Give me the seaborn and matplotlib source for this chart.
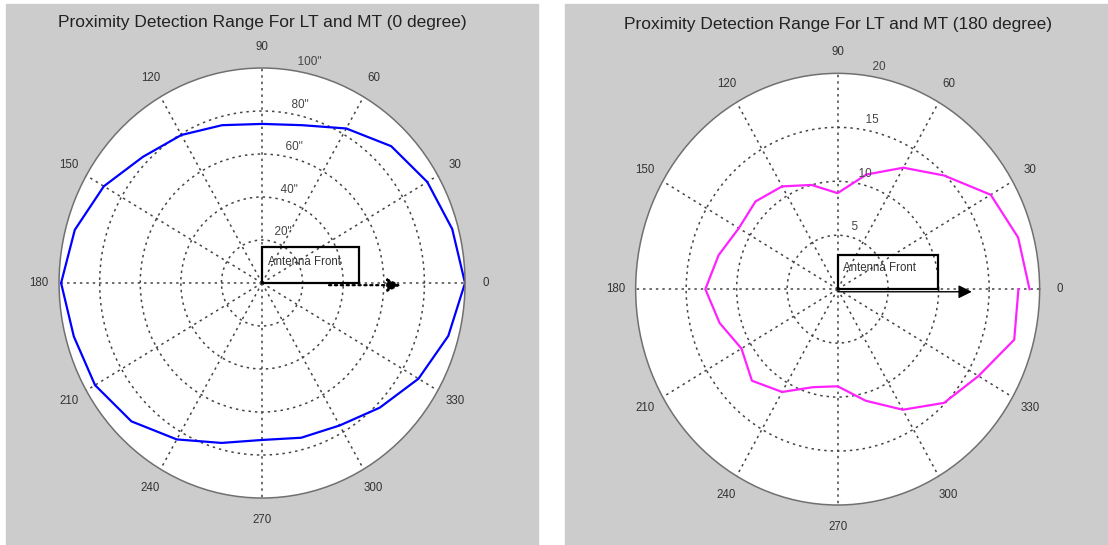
import numpy as np
import seaborn as sns
import matplotlib.pyplot as plt
from matplotlib.patches import Rectangle

# measured every 15 degrees, 0..360
angles = list(range(0, 361, 15))
range_0deg = [100, 97, 94, 90, 83, 76, 74, 76, 79.5, 83, 90, 95.5, 99,
              96, 95, 91, 84, 77, 73, 74.5, 76.5, 82, 89, 95, 100]
range_180deg = [19, 18.5, 17.5, 14.9, 13, 11, 8.9, 10, 11, 11.5, 11.3, 12.2, 13.1,
                12.1, 11, 12, 11, 9.4, 9, 10.7, 12.9, 14.9, 16.1, 18.1, 17.9]

titles = ["Proximity Detection Range For LT and MT (0 degree)",
          "Proximity Detection Range For LT and MT (180 degree)"]
ring_labels_0 = ['20"', '40"', '60"', '80"', '100"']
ring_labels_180 = ["5", "10", "15", "20"]
angle_labels = [str(a) for a in range(0, 360, 30)]

plt.rcParams['font.family'] = ['Liberation Sans', 'DejaVu Sans']

fig = plt.figure(figsize=(11.08, 5.45), dpi=100)
fig.patches.append(Rectangle((6 / 1108, 0), 532 / 1108, 1 - 4 / 545,
                             transform=fig.transFigure, color="#cccccc", zorder=-10))
fig.patches.append(Rectangle((565 / 1108, 0), 543 / 1108, 1 - 4 / 545,
                             transform=fig.transFigure, color="#cccccc", zorder=-10))


def matlab_polar(ax, r, rmax, rinc, ring_labels, color, title, title_xy, arrow):
    theta = np.deg2rad(angles)
    sns.lineplot(x=theta, y=r, ax=ax, sort=False, estimator=None,
                 color=color, lw=1.6)
    ax.set_aspect("auto")
    ax.set_facecolor("white")
    ax.set_ylim(0, rmax)
    ax.set_xticks(np.deg2rad(range(0, 360, 30)))
    ax.set_xticklabels([])
    ax.set_yticks(np.arange(rinc, rmax, rinc))
    ax.set_yticklabels([])
    ax.tick_params(length=0)
    ax.grid(True, color="#444444", linestyle=(0, (1.6, 2.6)), lw=1.1)
    ax.spines["polar"].set_color("#707070")
    ax.spines["polar"].set_linewidth(1.1)
    ax.set_xlabel("")
    ax.set_ylabel("")

    for a, lab in zip(range(0, 360, 30), angle_labels):
        ax.text(np.deg2rad(a), rmax * 1.1, lab, ha="center", va="center",
                fontsize=8.3, color="#333333")
    for i, lab in zip(np.arange(rinc, rmax + rinc / 2, rinc), ring_labels):
        ax.text(np.deg2rad(82), i + rinc / 20, "  " + lab, ha="left", va="bottom",
                fontsize=8.5, color="#444444")

    # Antenna Front box + arrow
    ax.add_patch(Rectangle((0.5, 0.5), arrow[0], arrow[1], transform=ax.transAxes,
                           fill=False, ec="black", lw=1.6, zorder=5))
    ax.text(0.514, 0.549, "Antenna Front", transform=ax.transAxes, fontsize=8.3,
            color="#333333", va="center", ha="left", zorder=6)
    ax.annotate("", xy=(arrow[3], arrow[4]), xytext=(arrow[2], arrow[4]),
                xycoords="axes fraction", textcoords="axes fraction",
                arrowprops=dict(arrowstyle="-|>", color="black", lw=arrow[6],
                                linestyle=arrow[5], mutation_scale=20,
                                shrinkA=0, shrinkB=0), zorder=6)
    fig.text(title_xy[0], title_xy[1], title, ha="center", va="center",
             fontsize=12.5, color="#222222")


ax1 = fig.add_axes([0.0533, 0.0862, 0.3664, 0.789], projection="polar")
matlab_polar(ax1, range_0deg, 100, 20, ring_labels_0, "#0000ff", titles[0],
             (262 / 1108, 1 - 22 / 545),
             (0.238, 0.084, 0.665, 0.842, 0.495, ":", 1.6))

ax2 = fig.add_axes([0.5737, 0.0734, 0.3646, 0.792], projection="polar")
matlab_polar(ax2, range_180deg, 20, 5, ring_labels_180, "#ff22ff", titles[1],
             (838 / 1108, 1 - 24 / 545),
             (0.248, 0.079, 0.5, 0.832, 0.494, "-", 1.0))

fig.savefig("out.png", dpi=100, facecolor="white")
